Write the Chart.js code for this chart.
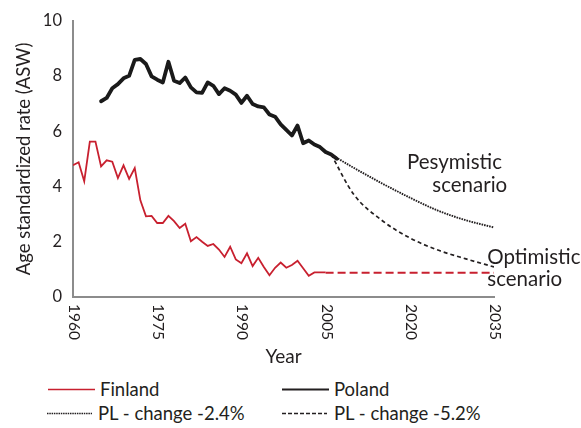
<!DOCTYPE html>
<html>
<head>
<meta charset="utf-8">
<script src="https://cdn.jsdelivr.net/npm/chart.js@4.4.1/dist/chart.umd.min.js"></script>
<style>
  body { margin: 0; background: #fff; font-family: Lato, sans-serif; color: #231f20; }
  #wrap { position: relative; width: 581px; height: 428px; }
  #chart { position: absolute; left: 0; top: 0; }
  .lg { position: absolute; font-size: 18.5px; line-height: 22px; white-space: nowrap; }
</style>
</head>
<body>
<div id="wrap">
  <canvas id="chart" width="581" height="372"></canvas>
  <div class="lg" style="left:100px; top:378px;">Finland</div>
  <div class="lg" style="left:334px; top:378px;">Poland</div>
  <div class="lg" style="left:98px; top:402px;">PL - change -2.4%</div>
  <div class="lg" style="left:334px; top:402px;">PL - change -5.2%</div>
  <svg width="581" height="428" style="position:absolute;left:0;top:0;pointer-events:none">
    <line x1="48" y1="389.5" x2="95" y2="389.5" stroke="#c8202f" stroke-width="1.5"/>
    <line x1="282" y1="389.5" x2="329" y2="389.5" stroke="#231f20" stroke-width="2"/>
    <line x1="47" y1="413.5" x2="92" y2="413.5" stroke="#231f20" stroke-width="1.6" stroke-dasharray="1.5 0.8"/>
    <line x1="282" y1="413.5" x2="327" y2="413.5" stroke="#231f20" stroke-width="1.5" stroke-dasharray="4 2"/>
  </svg>
</div>
<script>
// Finland, observed
const finlandYears = [1960, 1961, 1962, 1963, 1964, 1965, 1966, 1967, 1968, 1969,
  1970, 1971, 1972, 1973, 1974, 1975, 1976, 1977, 1978, 1979,
  1980, 1981, 1982, 1983, 1984, 1985, 1986, 1987, 1988, 1989,
  1990, 1991, 1992, 1993, 1994, 1995, 1996, 1997, 1998, 1999,
  2000, 2001, 2002, 2003, 2004, 2005];
const finlandValues = [4.77, 4.88, 4.19, 5.63, 5.63, 4.73, 4.95, 4.90, 4.31, 4.77,
  4.28, 4.67, 3.50, 2.92, 2.94, 2.68, 2.68, 2.94, 2.75, 2.50,
  2.65, 2.02, 2.17, 2.00, 1.85, 1.92, 1.72, 1.45, 1.82, 1.36,
  1.22, 1.58, 1.12, 1.42, 1.09, 0.79, 1.06, 1.25, 1.06, 1.16,
  1.31, 1.04, 0.77, 0.89, 0.89, 0.89];

// Poland, observed
const polandYears = [1965, 1966, 1967, 1968, 1969, 1970, 1971, 1972, 1973, 1974,
  1975, 1976, 1977, 1978, 1979, 1980, 1981, 1982, 1983, 1984,
  1985, 1986, 1987, 1988, 1989, 1990, 1991, 1992, 1993, 1994,
  1995, 1996, 1997, 1998, 1999, 2000, 2001, 2002, 2003, 2004,
  2005, 2006, 2007];
const polandValues = [7.09, 7.21, 7.56, 7.71, 7.92, 8.01, 8.59, 8.62, 8.44, 7.99,
  7.87, 7.77, 8.52, 7.83, 7.75, 7.95, 7.59, 7.41, 7.39, 7.77,
  7.65, 7.35, 7.56, 7.47, 7.33, 7.03, 7.29, 6.99, 6.90, 6.87,
  6.61, 6.53, 6.25, 6.05, 5.85, 6.21, 5.57, 5.67, 5.52, 5.43,
  5.25, 5.16, 5.01];

// projections
const projYears = [2006, 2010, 2015, 2020, 2025, 2030, 2035];
const pesymisticValues = [5.16, 4.68, 4.12, 3.60, 3.13, 2.78, 2.52];
const optimisticValues = [5.16, 3.72, 2.78, 2.14, 1.70, 1.38, 1.09];
const finlandProjYears = [2005, 2035];
const finlandProjValues = [0.88, 0.88];

const xTickLabels = [1960, 1975, 1990, 2005, 2020, 2035];
const yTickLabels = [0, 2, 4, 6, 8, 10];

const RED = '#c8202f';
const INK = '#231f20';

function pts(xs, ys) {
  return xs.map((x, i) => ({ x: x, y: ys[i] }));
}

// scenario captions, anchored in data units
const notes = [
  { text: 'Pesymistic', x: 2019.5, y: 4.88 },
  { text: 'scenario', x: 2024, y: 4.06 },
  { text: 'Optimistic', x: 2033.8, y: 1.45 },
  { text: 'scenario', x: 2033.8, y: 0.62 }
];

const extraText = {
  id: 'extraText',
  afterDraw(chart) {
    const { ctx, scales: { x, y } } = chart;
    ctx.save();
    ctx.fillStyle = INK;
    ctx.font = '15.5px Lato';
    ctx.textAlign = 'left';
    ctx.textBaseline = 'middle';
    xTickLabels.forEach(v => {
      ctx.save();
      ctx.translate(x.getPixelForValue(v) + 1, y.bottom + 7);
      ctx.rotate(Math.PI / 2);
      ctx.fillText(String(v), 0, 0);
      ctx.restore();
    });
    ctx.font = '20.5px Lato';
    notes.forEach(n => {
      ctx.fillText(n.text, x.getPixelForValue(n.x), y.getPixelForValue(n.y));
    });
    ctx.restore();
  }
};

new Chart(document.getElementById('chart'), {
  type: 'line',
  data: {
    datasets: [
      { data: pts(finlandYears, finlandValues), borderColor: RED, borderWidth: 1.8, tension: 0 },
      { data: pts(finlandProjYears, finlandProjValues), borderColor: RED, borderWidth: 2, borderDash: [8, 4] },
      { data: pts(projYears, pesymisticValues), borderColor: INK, borderWidth: 1.9, borderDash: [1.6, 1], cubicInterpolationMode: 'monotone' },
      { data: pts(projYears, optimisticValues), borderColor: INK, borderWidth: 1.7, borderDash: [4, 3], cubicInterpolationMode: 'monotone' },
      { data: pts(polandYears, polandValues), borderColor: '#1a1a1a', borderWidth: 3.8, tension: 0, borderJoinStyle: 'round', borderCapStyle: 'round' }
    ]
  },
  options: {
    responsive: false,
    animation: false,
    devicePixelRatio: 1,
    layout: { padding: { top: 19, right: 87, left: 0, bottom: 0 } },
    elements: { point: { radius: 0 } },
    plugins: { legend: { display: false }, tooltip: { enabled: false } },
    scales: {
      x: {
        type: 'linear',
        min: 1960,
        max: 2035,
        grid: { display: false, drawTicks: false },
        border: { color: '#8c8c8c', width: 2 },
        ticks: { display: false, stepSize: 15 },
        title: { display: true, text: 'Year', color: INK, font: { family: 'Lato', size: 19 }, padding: { top: 0, bottom: 4 } },
        afterFit(scale) { scale.height = 75; }
      },
      y: {
        min: 0,
        max: 10,
        grid: { display: false, drawTicks: false },
        border: { color: '#8c8c8c', width: 2 },
        afterBuildTicks(scale) { scale.ticks = yTickLabels.map(v => ({ value: v })); },
        ticks: { color: INK, padding: 11, font: { family: 'Lato', size: 16.5 } },
        title: { display: true, text: 'Age standardized rate (ASW)', color: INK, font: { family: 'Lato', size: 18.5 }, padding: { top: 13, bottom: 0 } },
        afterFit(scale) { scale.width = 73; }
      }
    }
  },
  plugins: [extraText]
});
</script>
</body>
</html>
